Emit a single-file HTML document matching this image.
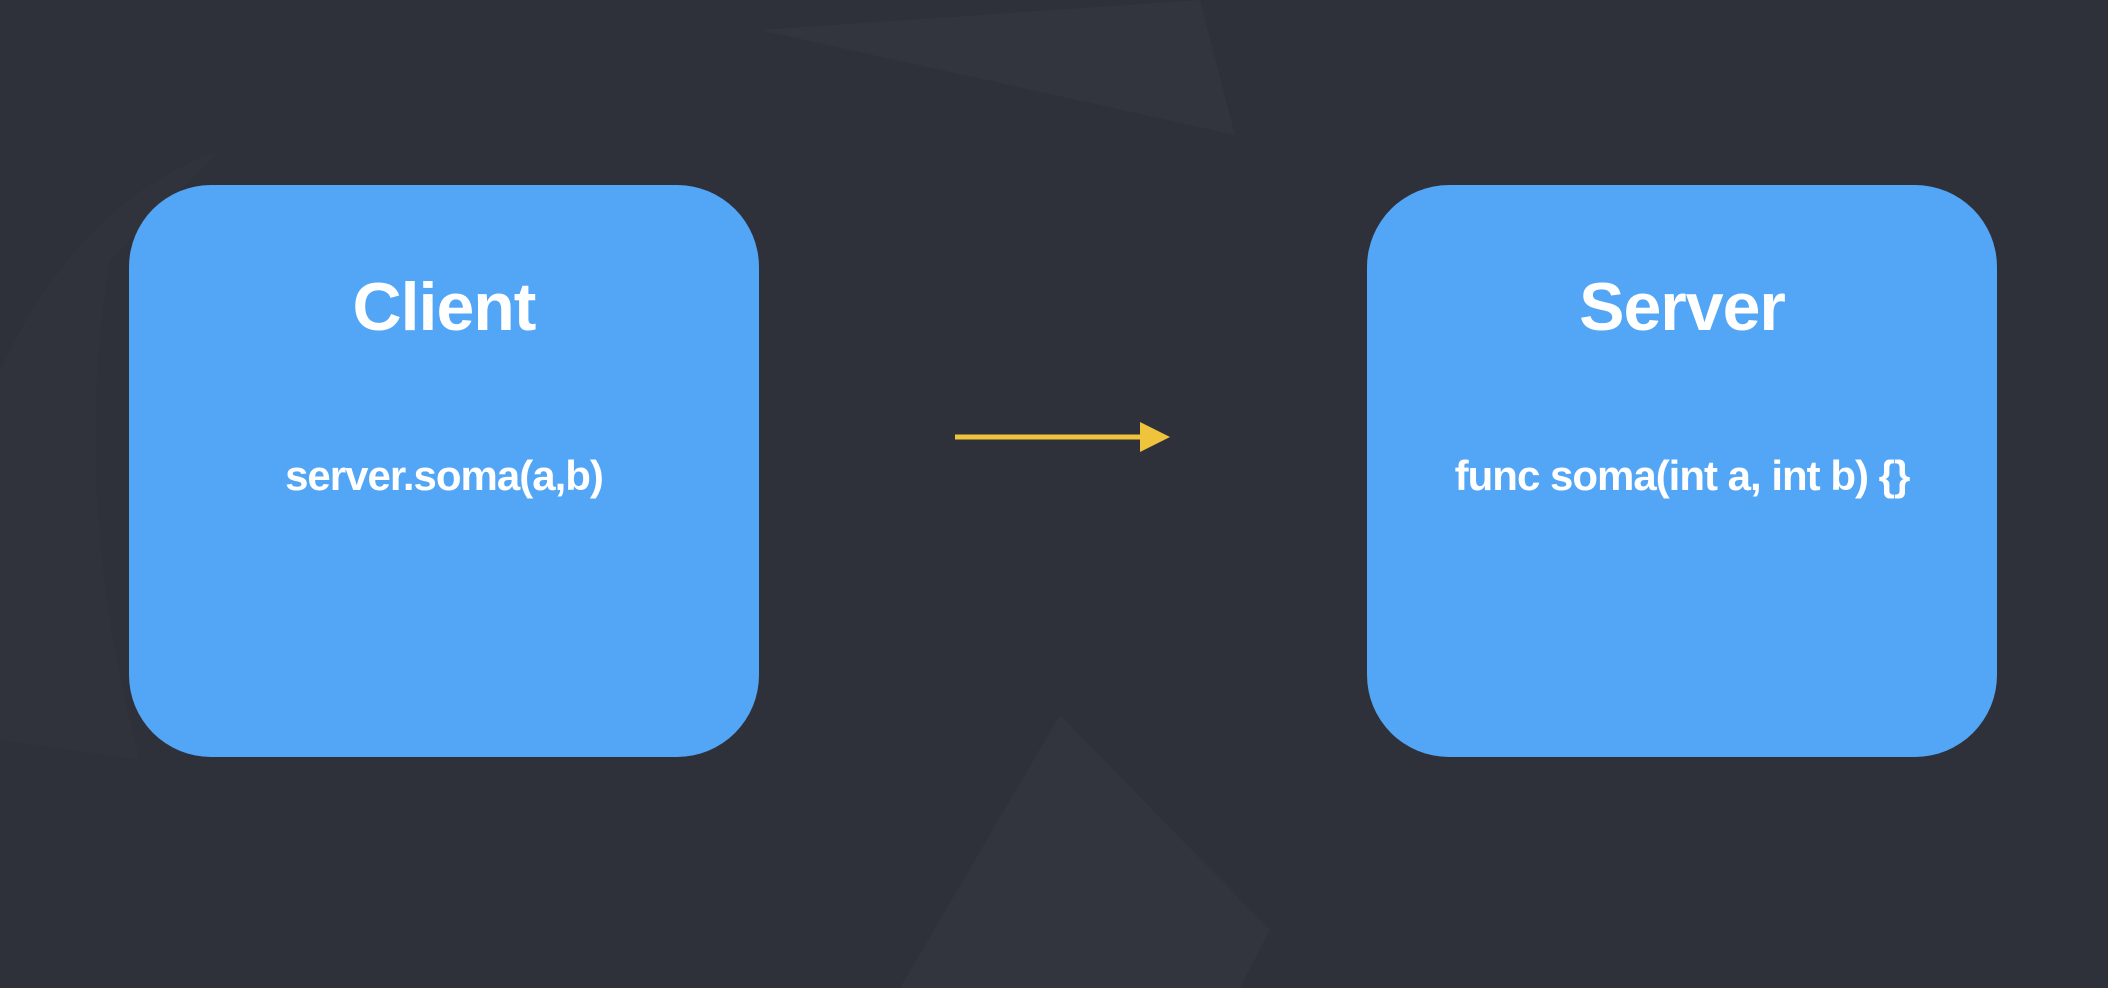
<!DOCTYPE html>
<html><head><meta charset="utf-8"><style>
html,body{margin:0;padding:0;}
body{width:2108px;height:988px;background:#2e3139;position:relative;overflow:hidden;font-family:"Liberation Sans",Arial,sans-serif;}
.bg{position:absolute;left:0;top:0;}
.box{position:absolute;top:185px;width:630px;height:572px;background:#53a6f6;border-radius:82px;color:#fff;text-align:center;}
.t{position:absolute;left:0;right:0;font-size:68px;font-weight:bold;line-height:1;letter-spacing:-1px;}
.s{position:absolute;left:0;right:0;font-size:42px;font-weight:bold;line-height:1;letter-spacing:-1px;}
</style></head><body>
<svg class="bg" width="2108" height="988" viewBox="0 0 2108 988">
<path d="M760 30 L1200 0 L1235 135 Z" fill="#32353d"/>
<path d="M1060 715 L1270 930 L1240 988 L900 988 Z" fill="#32353d"/>
<path d="M0 370 Q80 200 220 150 L110 260 Q70 500 140 760 L0 740 Z" fill="#30333b"/>
</svg>
<div class="box" style="left:129px"><div class="t" style="top:88px">Client</div><div class="s" style="top:270px">server.soma(a,b)</div></div>
<div class="box" style="left:1367px"><div class="t" style="top:88px">Server</div><div class="s" style="top:270px">func soma(int a, int b) {}</div></div>
<svg class="bg" width="2108" height="988" viewBox="0 0 2108 988">
<line x1="955" y1="437" x2="1145" y2="437" stroke="#f0c33c" stroke-width="5"/>
<polygon points="1140,422 1170,437 1140,452" fill="#f0c33c"/>
</svg>
</body></html>
